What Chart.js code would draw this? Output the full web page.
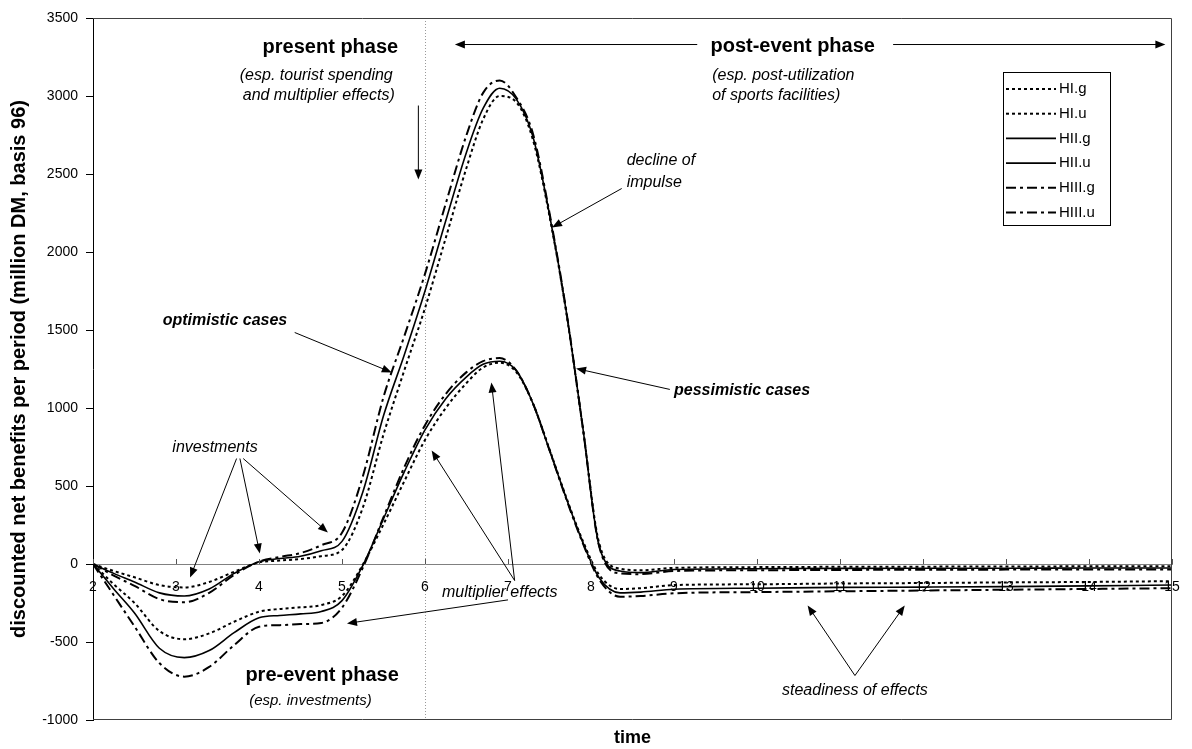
<!DOCTYPE html>
<html>
<head>
<meta charset="utf-8">
<script src="https://cdn.jsdelivr.net/npm/chart.js@4.4.0/dist/chart.umd.min.js"></script>
<style>
  html, body { margin: 0; padding: 0; background: #fff; }
</style>
</head>
<body>
<canvas id="chart" width="1192" height="749"></canvas>
<script>
// time points (x) and the six scenario series
const times = [2, 2.25, 2.5, 2.8, 3.1, 3.4, 3.7, 4, 4.25, 4.5, 4.75, 5, 5.25, 5.5, 5.75, 6,
               6.25, 6.5, 6.7, 6.9, 7.1, 7.3, 7.5, 7.7, 7.9, 8.1, 8.35, 8.6, 9, 10, 11, 12, 13, 14, 15];

const hiG   = [0, -45, -85, -135, -150, -115, -50, 10, 22, 32, 50, 90, 360, 830, 1240, 1640,
               2090, 2540, 2850, 3000, 2960, 2720, 2230, 1620, 880, 130, -30, -40, -25, -20, -18, -17, -16, -15, -15];
const hiU   = [0, -130, -250, -430, -482, -445, -370, -306, -288, -278, -263, -205, -5, 255, 530, 795,
               1000, 1160, 1260, 1290, 1230, 1030, 735, 430, 150, -70, -160, -155, -135, -130, -125, -122, -118, -115, -110];
const hiiG  = [0, -60, -115, -185, -205, -160, -60, 15, 35, 50, 85, 145, 460, 950, 1340, 1750,
               2200, 2640, 2920, 3050, 2980, 2740, 2240, 1626, 880, 110, -45, -55, -35, -30, -28, -27, -27, -26, -26];
const hiiU  = [0, -160, -314, -540, -600, -555, -440, -345, -330, -320, -305, -235, -10, 290, 590, 860,
               1060, 1200, 1280, 1300, 1240, 1030, 730, 425, 140, -90, -185, -180, -162, -155, -150, -148, -145, -140, -135];
const hiiiG = [0, -75, -140, -225, -245, -185, -70, 15, 45, 70, 120, 200, 560, 1070, 1460, 1860,
               2310, 2750, 3020, 3100, 2990, 2760, 2250, 1630, 880, 110, -60, -65, -45, -40, -38, -37, -36, -35, -35];
const hiiiU = [0, -200, -400, -635, -722, -660, -520, -402, -392, -385, -378, -280, -25, 300, 620, 890,
               1090, 1230, 1300, 1320, 1240, 1030, 730, 420, 135, -100, -210, -205, -188, -180, -175, -170, -165, -160, -155];

const seriesNames = ['HI.g', 'HI.u', 'HII.g', 'HII.u', 'HIII.g', 'HIII.u'];
const xTickValues = [2, 3, 4, 5, 6, 7, 8, 9, 10, 11, 12, 13, 14, 15];
const yTickValues = [-1000, -500, 0, 500, 1000, 1500, 2000, 2500, 3000, 3500];

const FONT = 'Arial, "Liberation Sans", sans-serif';
const DOT = [3, 3];
const DASHDOT = [10, 4, 3, 4];

function toPoints(vals) {
    return vals.map((v, i) => ({ x: times[i], y: v }));
}

function makeSet(name, vals, dash, width) {
    return {
        label: name,
        data: toPoints(vals),
        borderColor: '#000',
        borderWidth: width,
        borderDash: dash,
        pointRadius: 0,
        fill: false,
        cubicInterpolationMode: 'monotone'
    };
}

// text labels and arrows, positions given in data units (time, DM)
const labels = [
    { t: 'present phase', x: 4.86, y: 3311, font: 'bold 20px', align: 'center' },
    { t: '(esp. tourist spending', x: 4.69, y: 3131, font: 'italic 16px', align: 'center' },
    { t: 'and multiplier effects)', x: 4.72, y: 3003, font: 'italic 16px', align: 'center' },
    { t: 'post-event phase', x: 10.43, y: 3317, font: 'bold 20px', align: 'center' },
    { t: '(esp. post-utilization', x: 9.46, y: 3131, font: 'italic 16px', align: 'left' },
    { t: 'of sports facilities)', x: 9.46, y: 3003, font: 'italic 16px', align: 'left' },
    { t: 'decline of', x: 8.43, y: 2587, font: 'italic 16px', align: 'left' },
    { t: 'impulse', x: 8.43, y: 2446, font: 'italic 16px', align: 'left' },
    { t: 'optimistic cases', x: 3.59, y: 1561, font: 'italic bold 16px', align: 'center' },
    { t: 'pessimistic cases', x: 9.0, y: 1112, font: 'italic bold 16px', align: 'left' },
    { t: 'investments', x: 3.47, y: 747, font: 'italic 16px', align: 'center' },
    { t: 'multiplier effects', x: 6.90, y: -183, font: 'italic 16px', align: 'center' },
    { t: 'pre-event phase', x: 4.76, y: -715, font: 'bold 20px', align: 'center' },
    { t: '(esp. investments)', x: 4.62, y: -875, font: 'italic 15px', align: 'center' },
    { t: 'steadiness of effects', x: 11.18, y: -811, font: 'italic 16px', align: 'center' }
];

const arrows = [
    { from: [5.92, 2939], to: [5.92, 2465] },
    { from: [9.28, 3330], to: [6.36, 3330] },
    { from: [11.64, 3330], to: [14.92, 3330] },
    { from: [8.37, 2407], to: [7.53, 2157] },
    { from: [4.43, 1484], to: [5.60, 1228] },
    { from: [8.95, 1119], to: [7.82, 1253] },
    { from: [3.73, 676], to: [3.17, -87] },
    { from: [3.77, 676], to: [4.01, 67] },
    { from: [3.81, 676], to: [4.83, 202] },
    { from: [7.08, -106], to: [6.08, 728] },
    { from: [7.08, -106], to: [6.80, 1163] },
    { from: [7.00, -230], to: [5.06, -381] },
    { from: [11.18, -715], to: [10.61, -266] },
    { from: [11.18, -715], to: [11.78, -266] }
];

function drawArrow(ctx, x1, y1, x2, y2) {
    const ang = Math.atan2(y2 - y1, x2 - x1);
    const len = 10, half = 4;
    ctx.beginPath();
    ctx.moveTo(x1, y1);
    ctx.lineTo(x2 - Math.cos(ang) * len * 0.8, y2 - Math.sin(ang) * len * 0.8);
    ctx.stroke();
    ctx.beginPath();
    ctx.moveTo(x2, y2);
    ctx.lineTo(x2 - Math.cos(ang) * len - Math.sin(ang) * half, y2 - Math.sin(ang) * len + Math.cos(ang) * half);
    ctx.lineTo(x2 - Math.cos(ang) * len + Math.sin(ang) * half, y2 - Math.sin(ang) * len - Math.cos(ang) * half);
    ctx.closePath();
    ctx.fill();
}

const overlay = {
    id: 'overlay',
    beforeDatasetsDraw(chart) {
        const { ctx, chartArea: a, scales: { x } } = chart;
        // dotted marker of the event at t = 6
        ctx.save();
        ctx.strokeStyle = '#999';
        ctx.lineWidth = 1;
        ctx.setLineDash([1, 2]);
        ctx.beginPath();
        ctx.moveTo(Math.round(x.getPixelForValue(6)) + 0.5, a.top);
        ctx.lineTo(Math.round(x.getPixelForValue(6)) + 0.5, a.bottom);
        ctx.stroke();
        ctx.restore();
    },
    afterDraw(chart) {
        const { ctx, chartArea: a, scales: { x, y } } = chart;
        ctx.save();

        // plot frame
        ctx.strokeStyle = '#404040';
        ctx.lineWidth = 1;
        ctx.beginPath();
        ctx.moveTo(a.left, a.top + 0.5);
        ctx.lineTo(a.right - 0.5, a.top + 0.5);
        ctx.lineTo(a.right - 0.5, a.bottom - 0.5);
        ctx.lineTo(a.left, a.bottom - 0.5);
        ctx.stroke();

        // small tick marks on the zero line
        const y0 = Math.round(y.getPixelForValue(0));
        ctx.strokeStyle = '#555';
        xTickValues.forEach(v => {
            const px = Math.round(x.getPixelForValue(v)) + 0.5;
            ctx.beginPath();
            ctx.moveTo(px, y0 - 5);
            ctx.lineTo(px, y0);
            ctx.stroke();
        });

        // annotations
        ctx.fillStyle = '#000';
        ctx.strokeStyle = '#000';
        ctx.textBaseline = 'middle';
        labels.forEach(l => {
            ctx.font = l.font + ' ' + FONT;
            ctx.textAlign = l.align;
            ctx.fillText(l.t, x.getPixelForValue(l.x), y.getPixelForValue(l.y));
        });
        ctx.lineWidth = 1;
        arrows.forEach(r => {
            drawArrow(ctx, x.getPixelForValue(r.from[0]), y.getPixelForValue(r.from[1]),
                      x.getPixelForValue(r.to[0]), y.getPixelForValue(r.to[1]));
        });

        // legend box
        const lx = a.right - 169, ly = a.top + 54, lw = 107, lh = 153;
        ctx.fillStyle = '#fff';
        ctx.fillRect(lx, ly, lw, lh);
        ctx.strokeStyle = '#000';
        ctx.lineWidth = 1;
        ctx.strokeRect(lx + 0.5, ly + 0.5, lw, lh);
        ctx.font = '15px ' + FONT;
        ctx.textAlign = 'left';
        chart.data.datasets.forEach((ds, i) => {
            const ry = ly + 17 + i * 24.7;
            ctx.save();
            ctx.lineWidth = ds.borderWidth;
            ctx.setLineDash(ds.borderDash);
            ctx.beginPath();
            ctx.moveTo(lx + 3, ry);
            ctx.lineTo(lx + 53, ry);
            ctx.stroke();
            ctx.restore();
            ctx.fillStyle = '#000';
            ctx.fillText(ds.label, lx + 56, ry);
        });

        // x axis title
        ctx.font = 'bold 18px ' + FONT;
        ctx.textAlign = 'center';
        ctx.fillText('time', (a.left + a.right) / 2, a.bottom + 18);
        ctx.restore();
    }
};

new Chart(document.getElementById('chart'), {
    type: 'line',
    data: {
        datasets: [
            makeSet(seriesNames[0], hiG, DOT, 2),
            makeSet(seriesNames[1], hiU, DOT, 2),
            makeSet(seriesNames[2], hiiG, [], 1.6),
            makeSet(seriesNames[3], hiiU, [], 1.6),
            makeSet(seriesNames[4], hiiiG, DASHDOT, 2),
            makeSet(seriesNames[5], hiiiU, DASHDOT, 2)
        ]
    },
    options: {
        responsive: false,
        devicePixelRatio: 1,
        animation: false,
        layout: { padding: { top: 18, right: 20, bottom: 29, left: 0 } },
        plugins: { legend: { display: false }, tooltip: { enabled: false } },
        scales: {
            x: {
                type: 'linear',
                min: 2,
                max: 15,
                position: { y: 0 },
                afterBuildTicks: s => { s.ticks = xTickValues.map(v => ({ value: v })); },
                afterFit: s => { s.paddingLeft = 0; s.paddingRight = 0; },
                ticks: { font: { family: FONT, size: 14 }, color: '#000', padding: 15, autoSkip: false, maxRotation: 0,
                         callback: v => String(v) },
                grid: { drawOnChartArea: false, drawTicks: false },
                border: { color: '#808080', width: 1 }
            },
            y: {
                min: -1000,
                max: 3500,
                afterBuildTicks: s => { s.ticks = yTickValues.map(v => ({ value: v })); },
                afterFit: s => { s.width = 93; },
                ticks: { font: { family: FONT, size: 14 }, color: '#000', padding: 8, callback: v => String(v) },
                grid: { drawOnChartArea: false, tickLength: 7, color: '#000' },
                border: { color: '#000', width: 1 },
                title: {
                    display: true,
                    text: 'discounted net benefits per period (million DM, basis 96)',
                    font: { family: FONT, size: 20, weight: 'bold' },
                    color: '#000',
                    padding: { top: 7, bottom: 0 }
                }
            }
        }
    },
    plugins: [overlay]
});
</script>
</body>
</html>
